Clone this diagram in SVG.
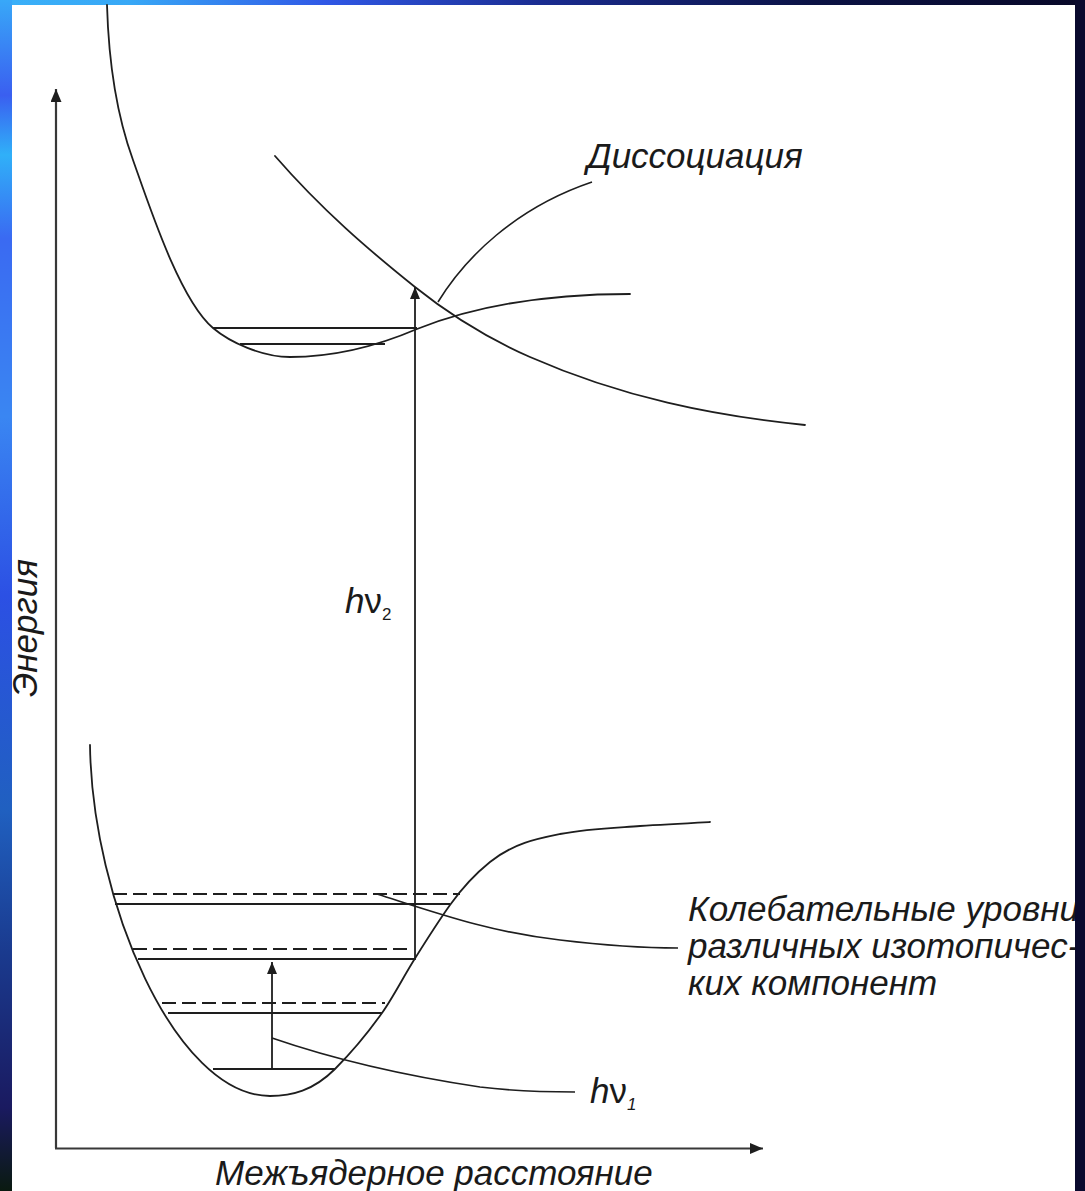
<svg xmlns="http://www.w3.org/2000/svg" width="1085" height="1191" viewBox="0 0 1085 1191">
<defs>
<linearGradient id="bgDiag" x1="0" y1="0" x2="1" y2="1">
<stop offset="0" stop-color="#38a8f6"/>
<stop offset="0.25" stop-color="#2f58e0"/>
<stop offset="0.55" stop-color="#16277a"/>
<stop offset="1" stop-color="#08082a"/>
</linearGradient>
<linearGradient id="leftStrip" x1="0" y1="0" x2="0" y2="1">
<stop offset="0" stop-color="#38a8f8"/>
<stop offset="0.08" stop-color="#3a5ff0"/>
<stop offset="0.13" stop-color="#30b0f8"/>
<stop offset="0.2" stop-color="#3a6af2"/>
<stop offset="0.35" stop-color="#3a86f2"/>
<stop offset="0.5" stop-color="#2c50e4"/>
<stop offset="0.68" stop-color="#2060c0"/>
<stop offset="0.8" stop-color="#1a3a8e"/>
<stop offset="0.93" stop-color="#1a1a60"/>
<stop offset="1" stop-color="#0a1a10"/>
</linearGradient>
<linearGradient id="topStrip" x1="0" y1="0" x2="1" y2="0">
<stop offset="0" stop-color="#3ab0f8"/>
<stop offset="0.12" stop-color="#38a8f6"/>
<stop offset="0.3" stop-color="#3058e6"/>
<stop offset="0.5" stop-color="#1a2c90"/>
<stop offset="0.75" stop-color="#0b1244"/>
<stop offset="1" stop-color="#080828"/>
</linearGradient>
<marker id="ah" markerWidth="12" markerHeight="10" refX="12" refY="5" orient="auto" markerUnits="userSpaceOnUse">
<path d="M0,0 L12,5 L0,10 Z" fill="#1e1e1e"/>
</marker>
<marker id="ahAxis" markerWidth="13" markerHeight="11" refX="13" refY="5.5" orient="auto" markerUnits="userSpaceOnUse">
<path d="M0,0 L13,5.5 L0,11 Z" fill="#1e1e1e"/>
</marker>
</defs>
<style>
.curve{fill:none;stroke:#1e1e1e;stroke-width:1.8;stroke-linecap:round}
.lvl{fill:none;stroke:#1e1e1e;stroke-width:1.8}
.dash{fill:none;stroke:#1e1e1e;stroke-width:1.8;stroke-dasharray:14 6}
.axis{fill:none;stroke:#383838;stroke-width:2.2}
.lead{fill:none;stroke:#1e1e1e;stroke-width:1.6}
.arr{fill:none;stroke:#1e1e1e;stroke-width:1.8}
.lbl{font-family:"Liberation Sans",Arial,sans-serif;font-size:35px;font-style:italic;fill:#1a1a1a}
.sub{font-size:17px}
</style>

<rect x="0" y="0" width="1085" height="1191" fill="url(#bgDiag)"/>
<rect x="0" y="0" width="1085" height="6" fill="url(#topStrip)"/>
<rect x="0" y="0" width="12" height="1191" fill="url(#leftStrip)"/>
<rect x="12" y="5" width="1063" height="1186" fill="#ffffff"/>

<g id="axes">
<path class="axis" d="M56,1148 L56,89" marker-end="url(#ahAxis)"/>
<path class="axis" d="M55,1148.5 L763,1148.5" marker-end="url(#ahAxis)"/>
</g>

<g id="excited-state">
<path class="curve" d="M107,5 C108.5,57 115.2,111.1 133,160 C150,208 180,300 213,328 C230,342.4 262,357 290,357 C332,357 375,347 417,329 C483,302.6 559,294 630,294"/>
<path class="lvl" d="M213,328 L417,328"/>
<path class="lvl" d="M240,344 L385,344"/>
</g>

<g id="repulsive-state">
<path class="curve" d="M275,156 C321.7,209.7 368.3,249.6 415,287 C453.3,317.7 491.7,340.1 530,357 C621.7,397.3 713.3,415.8 805,425"/>
</g>

<g id="ground-state">
<path class="curve" d="M90,745 C92,900 175,1096 270,1096 C291.7,1096 313.3,1090.7 335,1069 C350.7,1053.3 366.3,1035 382,1013 C392.7,998 403.3,977.1 414,960 C426,940.8 438,921.8 450,905 C463.3,886.3 476.7,872.7 490,862 C513.3,843.3 536.7,838.7 560,834 C586.7,828.7 613.3,827.9 640,826 C663.3,824.4 686.7,823.2 710,822"/>
<path class="dash" d="M113,894 L460,894"/>
<path class="lvl" d="M115,904 L450,904"/>
<path class="dash" d="M133,949 L413,949"/>
<path class="lvl" d="M138,959 L414,959"/>
<path class="dash" d="M162,1003 L385,1003"/>
<path class="lvl" d="M168,1013 L382,1013"/>
<path class="lvl" d="M213,1069 L335,1069"/>
</g>

<g id="connectors">
<path class="arr" d="M415,960 L415,287" marker-end="url(#ah)"/>
<path class="arr" d="M272,1069 L272,962" marker-end="url(#ah)"/>
<path class="lead" d="M438,302 C465,258 515,208 592,182"/>
<path class="lead" d="M377,894 C440,914 490,932 560,940 C610,946 650,948 678,948"/>
<path class="lead" d="M272,1038 C330,1058 400,1075 480,1087 C520,1092 550,1092 575,1092"/>
</g>

<g id="labels">
<text id="lbl-dissoc" class="lbl" x="587" y="168">Диссоциация</text>
<text id="lbl-hv2" class="lbl" x="345" y="613">h<tspan font-style="normal">ν</tspan><tspan class="sub" dy="7" font-style="normal">2</tspan></text>
<text id="lbl-levels" class="lbl" x="688" y="921">Колебательные уровни<tspan x="688" y="958">различных изотопичес-</tspan><tspan x="688" y="995">ких компонент</tspan></text>
<text id="lbl-hv1" class="lbl" x="590" y="1103">h<tspan font-style="normal">ν</tspan><tspan class="sub" dy="7">1</tspan></text>
<text id="lbl-x" class="lbl" x="215" y="1185">Межъядерное расстояние</text>
<text id="lbl-y" class="lbl" transform="translate(37,697) rotate(-90)" x="0" y="0">Энергия</text>
</g>
<rect x="1075" y="0" width="10" height="1191" fill="#0a0a2e"/>
</svg>
